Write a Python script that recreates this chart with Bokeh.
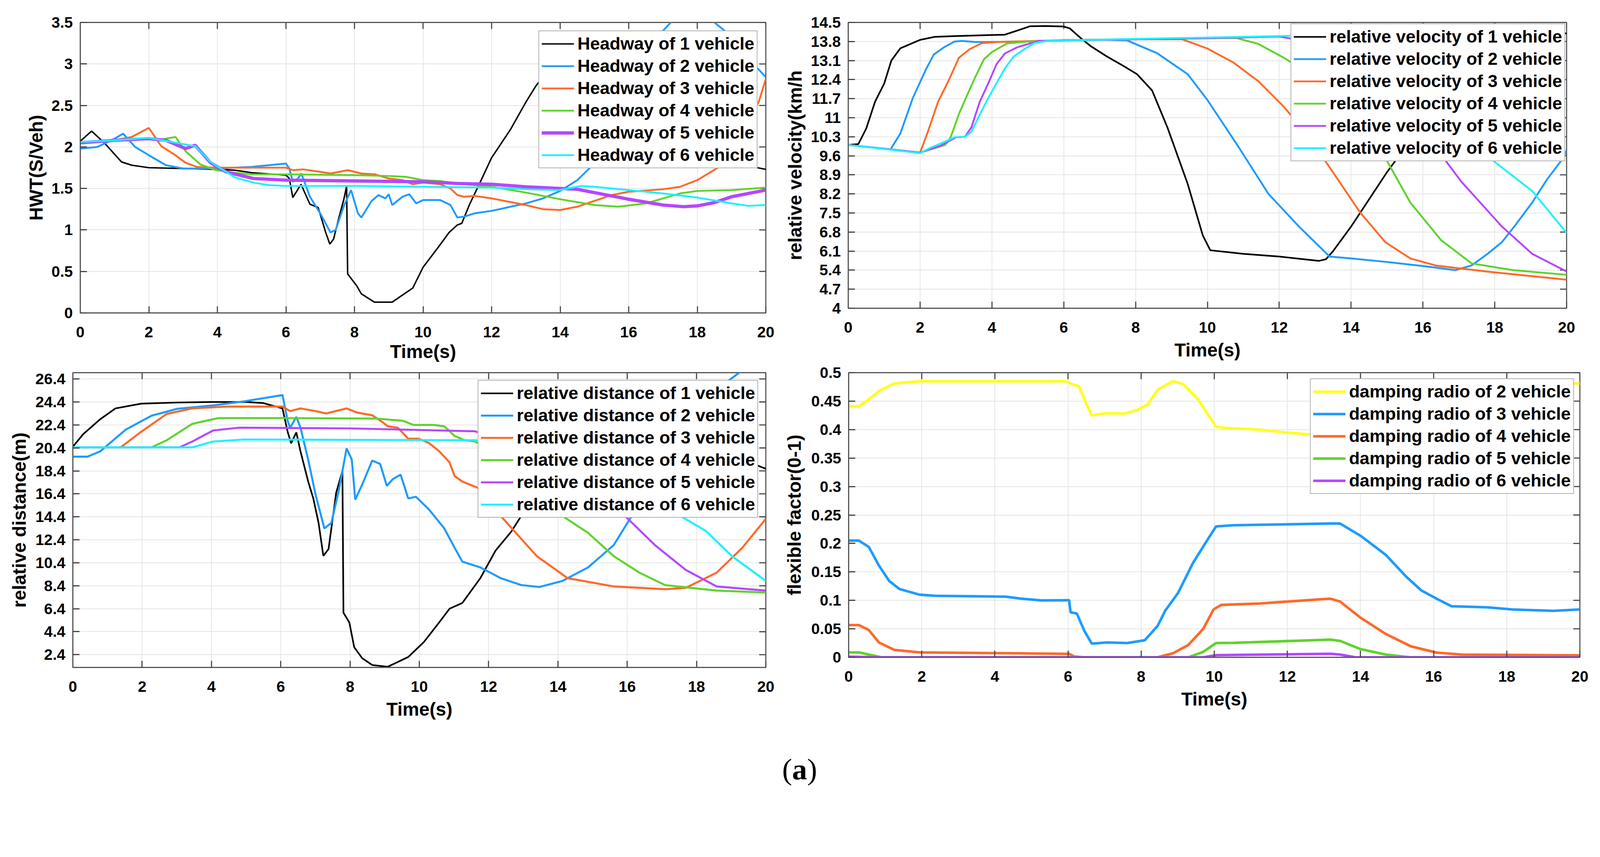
import math
from bokeh.plotting import figure
from bokeh.layouts import column, row
from bokeh.models import FixedTicker, CustomJSTickFormatter, Div, Range1d
from bokeh.embed import file_html
from bokeh.resources import INLINE

# ---------------- data ----------------
time_ticks = [0, 2, 4, 6, 8, 10, 12, 14, 16, 18, 20]

hwt_ticks = [0, 0.5, 1, 1.5, 2, 2.5, 3, 3.5]
vel_ticks = [4, 4.7, 5.4, 6.1, 6.8, 7.5, 8.2, 8.9, 9.6, 10.3, 11, 11.7, 12.4, 13.1, 13.8, 14.5]
dist_ticks = [2.4, 4.4, 6.4, 8.4, 10.4, 12.4, 14.4, 16.4, 18.4, 20.4, 22.4, 24.4, 26.4]
damp_ticks = [0, 0.05, 0.1, 0.15, 0.2, 0.25, 0.3, 0.35, 0.4, 0.45, 0.5]

colors = ["#000000", "#1e9bff", "#ff6929", "#5fd32b", "#b547ff", "#1af2ff", "#ffff1a"]

# headway (HWT)
hwt_t1 = [0, 0.33, 0.7, 1.2, 1.5, 2, 3, 4, 4.5, 5, 6, 6.1, 6.2, 6.44, 6.7, 6.94, 7.16, 7.28, 7.39, 7.54, 7.69, 7.77, 7.8,
          8.06, 8.2, 8.58, 9.1, 9.7, 10.0, 10.46, 10.76, 11.0, 11.13, 11.36, 11.65, 12.0, 12.55, 13.0, 13.3, 14.0, 15.0,
          16.0, 17.0, 18.0, 19.0, 19.5, 20]
hwt_y1 = [2.07, 2.19, 2.05, 1.82, 1.78, 1.75, 1.74, 1.73, 1.72, 1.69, 1.66, 1.62, 1.39, 1.55, 1.31, 1.27, 0.97, 0.83, 0.89,
          1.14, 1.37, 1.53, 0.47, 0.33, 0.23, 0.13, 0.13, 0.3, 0.55, 0.8, 0.97, 1.06, 1.08, 1.31, 1.56, 1.87, 2.21, 2.54,
          2.74, 3.1, 3.3, 3.2, 2.8, 2.2, 1.85, 1.77, 1.73]
hwt_t2 = [0, 0.5, 1.0, 1.25, 1.6, 2.0, 2.5, 3.0, 4.0, 5.0, 6.0, 6.1, 6.2, 6.35, 6.45, 6.7, 7.0, 7.3, 7.45, 7.7, 7.9, 8.1,
          8.2, 8.5, 8.7, 8.9, 9.0, 9.1, 9.4, 9.6, 9.8, 10.0, 10.5, 10.8, 11.0, 11.2, 11.5, 12.0, 13.0, 13.5, 14.0, 14.5,
          15.0, 15.5, 16.0, 16.5, 17.0, 17.8, 18.5, 18.8, 19.3, 19.8, 20]
hwt_y2 = [1.98, 2.0, 2.1, 2.16, 2.0, 1.9, 1.78, 1.74, 1.74, 1.76, 1.8, 1.74, 1.58, 1.62, 1.68, 1.4, 1.2, 0.97, 1.0, 1.3,
          1.48, 1.2, 1.15, 1.35, 1.42, 1.38, 1.43, 1.3, 1.4, 1.43, 1.32, 1.36, 1.36, 1.3, 1.15, 1.16, 1.2, 1.23, 1.32,
          1.38, 1.47, 1.6, 1.8, 2.1, 2.5, 2.95, 3.4, 3.75, 3.5, 3.4, 3.1, 2.93, 2.84]
hwt_t3 = [0, 1.0, 1.5, 2.0, 2.36, 2.74, 3.07, 3.4, 4.0, 5.0, 6.0, 6.2, 6.5, 7.0, 7.3, 7.8, 8.2, 8.6, 9.0, 9.4, 9.7, 10.0,
          10.5, 10.8, 11.0, 11.2, 11.5, 12.0, 13.0, 13.5, 14.0, 14.5, 15.0, 15.5, 16.0, 17.0, 17.5, 18.0, 18.6, 19.2,
          19.8, 20]
hwt_y3 = [2.05, 2.08, 2.12, 2.23, 2.01, 1.91, 1.81, 1.76, 1.75, 1.75, 1.75, 1.72, 1.73, 1.7, 1.68, 1.72, 1.68, 1.67, 1.62,
          1.6, 1.55, 1.57, 1.55, 1.5, 1.42, 1.4, 1.41, 1.38, 1.3, 1.25, 1.24, 1.28, 1.35, 1.42, 1.46, 1.49, 1.52, 1.6,
          1.75, 2.1, 2.55, 2.82]
hwt_t4 = [0, 1.0, 2.0, 2.34, 2.78, 3.07, 3.5, 3.96, 4.5, 5.0, 6.0, 8.0, 9.0, 9.5, 10.0, 10.5, 11.0, 11.5, 12.0, 13.0,
          14.0, 15.0, 15.7, 16.5, 17.0, 17.5, 18.0, 19.0, 20]
hwt_y4 = [2.05, 2.08, 2.1, 2.09, 2.12, 1.95, 1.79, 1.72, 1.69, 1.67, 1.67, 1.66, 1.65, 1.64, 1.6, 1.59, 1.56, 1.54, 1.52,
          1.45, 1.37, 1.30, 1.28, 1.32, 1.38, 1.44, 1.47, 1.48, 1.51]
hwt_t5 = [0, 1.0, 2.0, 2.5, 3.07, 3.35, 3.8, 4.25, 5.05, 6.0, 8.0, 10.0, 11.0, 12.0, 13.0, 14.0, 14.5, 15.0, 16.0, 17.0,
          17.6, 18.0, 18.5, 19.0, 20]
hwt_y5 = [2.05, 2.08, 2.1, 2.08, 1.98, 2.02, 1.81, 1.7, 1.62, 1.6, 1.59, 1.58, 1.56, 1.55, 1.52, 1.5, 1.49, 1.45, 1.37,
          1.3, 1.28, 1.29, 1.33, 1.4, 1.48]
hwt_t6 = [0, 1.0, 2.0, 2.8, 3.35, 3.8, 4.25, 4.53, 5.05, 5.5, 6.0, 8.0, 10.0, 12.0, 13.0, 14.0, 14.6, 15.0, 16.0, 17.0,
          18.0, 19.0, 19.5, 20]
hwt_y6 = [2.06, 2.08, 2.11, 2.05, 2.01, 1.82, 1.7, 1.63, 1.57, 1.54, 1.53, 1.53, 1.52, 1.51, 1.49, 1.48, 1.53, 1.52, 1.48,
          1.44, 1.39, 1.32, 1.29, 1.30]

# relative velocity
vel_t1 = [0, 0.28, 0.5, 0.75, 1.0, 1.2, 1.45, 2.0, 2.4, 3.0, 4.0, 4.36, 4.7, 5.06, 5.5, 6.0, 6.17, 6.46, 6.75, 7.2, 7.6,
          8.04, 8.46, 8.89, 9.45, 9.87, 10.08, 11.0, 12.0, 13.1, 13.3, 13.5, 14.0, 14.5, 15.0, 15.5, 16.5, 17.5, 18.5, 20]
vel_y1 = [10.0, 10.03, 10.6, 11.6, 12.25, 13.1, 13.55, 13.86, 13.97, 14.0, 14.04, 14.05, 14.2, 14.36, 14.37, 14.35, 14.28,
          13.94, 13.63, 13.25, 12.95, 12.6, 12.0, 10.63, 8.57, 6.68, 6.13, 6.0, 5.9, 5.74, 5.8, 6.1, 7.0, 8.0, 9.0, 9.9,
          12.0, 13.5, 14.0, 14.1]
vel_t2 = [0, 1.18, 1.45, 1.8, 2.15, 2.38, 2.67, 2.96, 3.17, 3.55, 5.0, 6.0, 7.0, 7.76, 8.6, 9.45, 10.0, 10.86, 11.7,
          12.55, 13.4, 14.0, 15.0, 16.0, 16.9, 17.35, 17.8, 18.2, 18.6, 19.04, 19.46, 19.9, 20]
vel_y2 = [10.0, 9.84, 10.42, 11.73, 12.74, 13.32, 13.59, 13.8, 13.82, 13.78, 13.8, 13.85, 13.87, 13.84, 13.37, 12.6,
          11.65, 9.94, 8.2, 7.0, 5.9, 5.83, 5.7, 5.55, 5.4, 5.57, 6.0, 6.43, 7.1, 7.88, 8.74, 9.51, 9.8]
vel_t3 = [0, 2.0, 2.2, 2.5, 2.79, 3.08, 3.37, 3.72, 4.13, 6.0, 8.0, 9.3, 10.0, 10.72, 11.42, 12.13, 12.83, 13.54, 14.24,
          14.95, 15.65, 16.36, 17.77, 20]
vel_y3 = [10.0, 9.72, 10.42, 11.58, 12.35, 13.2, 13.51, 13.74, 13.78, 13.85, 13.88, 13.88, 13.54, 13.03, 12.34, 11.4,
          10.28, 8.91, 7.54, 6.43, 5.83, 5.57, 5.35, 5.05]
vel_t4 = [0, 2.0, 2.55, 2.7, 2.85, 3.08, 3.31, 3.55, 3.78, 4.01, 4.42, 5.0, 7.0, 9.0, 10.8, 11.42, 12.13, 12.7, 13.5,
          14.2, 14.95, 15.65, 16.5, 17.35, 18.5, 20]
vel_y4 = [10.0, 9.72, 9.94, 10.0, 10.28, 11.13, 11.83, 12.53, 13.15, 13.42, 13.73, 13.8, 13.86, 13.9, 13.93, 13.71, 13.2,
          12.73, 11.7, 10.6, 9.53, 7.88, 6.51, 5.65, 5.4, 5.23]
vel_t5 = [0, 2.0, 2.55, 3.0, 3.25, 3.43, 3.66, 3.9, 4.13, 4.36, 4.71, 5.29, 7.0, 9.0, 11.0, 12.0, 12.62, 13.5, 14.5,
          15.5, 16.57, 17.07, 18.2, 19.04, 20]
vel_y5 = [10.0, 9.72, 9.96, 10.28, 10.3, 10.65, 11.58, 12.27, 12.97, 13.36, 13.59, 13.82, 13.86, 13.9, 13.95, 13.98,
          13.84, 13.2, 12.3, 11.0, 9.53, 8.65, 7.0, 6.0, 5.35]
vel_t6 = [0, 2.0, 2.26, 2.67, 2.96, 3.25, 3.43, 3.66, 3.9, 4.13, 4.36, 4.6, 4.89, 5.18, 5.53, 7.0, 9.0, 11.0, 12.7, 14.0,
          15.0, 16.0, 17.0, 17.85, 19.04, 20]
vel_y6 = [10.0, 9.70, 9.88, 10.11, 10.28, 10.3, 10.49, 11.11, 11.73, 12.27, 12.81, 13.24, 13.51, 13.74, 13.82, 13.87,
          13.92, 13.97, 14.02, 14.0, 13.9, 13.2, 11.0, 9.53, 8.31, 6.77]

# relative distance
dist_t1 = [0, 0.3, 0.79, 1.23, 1.97, 3.0, 4.0, 5.0, 5.5, 6.05, 6.2, 6.3, 6.45, 6.57, 6.79, 6.94, 7.09, 7.23, 7.38, 7.6,
           7.78, 7.81, 7.98, 8.12, 8.35, 8.64, 9.09, 9.68, 10.13, 10.57, 10.87, 11.24, 11.76, 12.2, 12.65, 12.94, 14.0,
           15.0, 16.0, 17.0, 18.0, 19.0, 19.9, 20]
dist_y1 = [20.5, 21.6, 22.9, 23.84, 24.25, 24.35, 24.4, 24.4, 24.3, 23.84, 21.8, 20.8, 21.75, 20.1, 17.5, 16.0, 13.9,
           11.0, 11.6, 16.5, 18.4, 6.05, 5.2, 3.05, 2.1, 1.5, 1.35, 2.2, 3.5, 5.2, 6.4, 6.9, 9.06, 11.46, 13.1, 14.47,
           19.0, 22.5, 24.0, 23.5, 21.8, 19.8, 18.7, 18.6]
dist_t2 = [0, 0.42, 0.79, 1.53, 2.27, 3.0, 4.05, 4.94, 6.05, 6.2, 6.27, 6.45, 6.57, 6.79, 7.01, 7.26, 7.46, 7.68, 7.9,
           8.05, 8.15, 8.35, 8.64, 8.87, 9.06, 9.24, 9.46, 9.68, 9.9, 10.27, 10.72, 11.02, 11.24, 11.76, 12.35, 12.94,
           13.46, 14.13, 14.87, 15.61, 16.13, 17.0, 18.0, 18.87, 19.24, 20]
dist_y2 = [19.64, 19.64, 20.1, 22.0, 23.2, 23.8, 24.1, 24.45, 25.0, 22.76, 22.16, 23.1, 22.16, 19.4, 16.27, 13.39, 13.87,
           16.75, 20.36, 19.4, 15.9, 17.2, 19.3, 19.0, 17.1, 17.7, 18.07, 16.0, 16.15, 15.07, 13.39, 11.7, 10.5, 10.0,
           9.06, 8.46, 8.29, 8.82, 10.0, 11.94, 14.47, 17.5, 22.0, 26.13, 26.97, 29.0]
dist_t3 = [0, 1.38, 1.97, 2.71, 3.45, 4.49, 6.05, 6.27, 6.57, 7.01, 7.31, 7.9, 8.2, 8.64, 8.94, 9.09, 9.38, 9.68, 9.98,
           10.27, 10.57, 10.87, 11.02, 11.24, 11.68, 12.0, 12.35, 13.39, 14.28, 15.61, 17.1, 17.69, 18.58, 19.32, 20]
dist_y3 = [20.45, 20.45, 21.8, 23.36, 23.84, 24.0, 24.0, 23.6, 23.84, 23.6, 23.4, 23.84, 23.48, 23.24, 22.64, 22.28,
           22.16, 21.2, 21.2, 20.84, 20.12, 19.15, 17.95, 17.47, 16.94, 15.8, 14.47, 10.98, 9.06, 8.34, 8.1, 8.22, 9.54,
           11.7, 14.23]
dist_t4 = [0, 2.27, 2.71, 3.45, 4.2, 6.0, 8.79, 9.53, 9.83, 10.42, 10.72, 11.02, 11.31, 11.6, 12.5, 13.3, 14.13, 14.87,
           15.61, 16.35, 17.09, 18.58, 20]
dist_y4 = [20.45, 20.45, 21.07, 22.5, 23.0, 23.0, 22.95, 22.76, 22.4, 22.4, 22.28, 21.44, 21.07, 20.96, 19.5, 17.2,
           14.47, 13.0, 10.98, 9.54, 8.46, 7.98, 7.81]
dist_t5 = [0, 3.08, 3.45, 4.05, 4.79, 8.0, 11.6, 13.0, 14.5, 15.98, 16.8, 17.69, 18.58, 20]
dist_y5 = [20.45, 20.45, 20.96, 21.92, 22.16, 22.1, 21.85, 20.5, 17.8, 14.35, 11.94, 9.78, 8.34, 7.98]
dist_t6 = [0, 3.45, 4.05, 4.94, 8.0, 11.6, 13.5, 15.5, 16.8, 17.54, 18.28, 19.02, 20]
dist_y6 = [20.45, 20.45, 20.96, 21.13, 21.1, 21.07, 20.5, 19.0, 16.5, 14.47, 13.15, 10.98, 8.82]

# damping radio (flexible factor)
damp_t2 = [0, 0.28, 0.55, 0.83, 1.25, 1.94, 4.0, 5.96, 6.1, 6.3, 6.51, 6.65, 7.07, 7.55, 7.9, 8.18, 8.45, 8.87, 9.15,
           9.56, 9.84, 10.05, 10.26, 11.23, 11.92, 12.54, 13.5, 14.0, 14.5, 15.0, 15.5, 16.0, 17.0, 18.0, 19.0, 20]
damp_y2 = [0.441, 0.441, 0.453, 0.468, 0.481, 0.485, 0.485, 0.485, 0.48, 0.476, 0.444, 0.425, 0.429, 0.428, 0.435, 0.444,
           0.47, 0.485, 0.48, 0.453, 0.425, 0.405, 0.403, 0.40, 0.395, 0.392, 0.388, 0.392, 0.42, 0.46, 0.483, 0.487,
           0.485, 0.483, 0.482, 0.481]
damp_t3 = [0, 0.28, 0.55, 0.83, 1.11, 1.39, 1.94, 2.36, 4.3, 4.71, 5.27, 6.03, 6.07, 6.24, 6.45, 6.65, 7.07, 7.62, 8.1,
           8.45, 8.66, 9.01, 9.42, 9.84, 10.05, 10.53, 13.17, 13.44, 14.0, 14.69, 15.25, 15.66, 16.08, 16.49, 17.46,
           18.16, 19.27, 20]
damp_y3 = [0.205, 0.205, 0.194, 0.161, 0.134, 0.12, 0.110, 0.108, 0.1065, 0.103, 0.1, 0.1003, 0.079, 0.077, 0.046, 0.024,
           0.026, 0.025, 0.03, 0.055, 0.082, 0.113, 0.166, 0.209, 0.23, 0.232, 0.235, 0.235, 0.2135, 0.18, 0.1416,
           0.1176, 0.103, 0.0897, 0.0878, 0.084, 0.0816, 0.084]
damp_t4 = [0, 0.28, 0.55, 0.83, 1.25, 1.94, 4.3, 6.03, 6.17, 6.45, 8.45, 8.87, 9.29, 9.7, 9.98, 10.19, 11.23, 13.17,
           13.44, 14.0, 14.69, 15.38, 16.08, 16.77, 20]
damp_y4 = [0.0566, 0.0566, 0.048, 0.026, 0.013, 0.0086, 0.0072, 0.006, 0.0014, 0, 0, 0.007, 0.0216, 0.05, 0.084, 0.092,
           0.0945, 0.103, 0.098, 0.0696, 0.041, 0.0192, 0.0082, 0.0048, 0.0034]
damp_t5 = [0, 0.28, 0.55, 0.9, 9.29, 9.7, 10.05, 10.53, 13.17, 13.44, 14.0, 14.69, 15.38, 20]
damp_y5 = [0.0086, 0.0086, 0.0048, 0, 0, 0.0096, 0.025, 0.0254, 0.031, 0.0288, 0.0144, 0.0048, 0, 0]
damp_t6 = [0, 0.8, 9.7, 10.05, 13.17, 13.44, 13.86, 20]
damp_y6 = [0.001, 0, 0, 0.0038, 0.0062, 0.0048, 0, 0]

FONT = "Liberation Sans"
AXIS_GREY = "#555555"
TICK_GREY = "#444444"
# the page comes out about 7% larger in the photograph, so every size below is given in
# picture pixels and shrunk by S
S = 4096 / 4371


def px(v):
    return int(round(v * S))


def fs(v):
    return "%.1fpx" % (v * S)


def make_fig(fw, fh, left, right, top, bottom, yrange, yticks, ylabel, ylab_standoff, xlab_standoff=16):
    p = figure(frame_width=px(fw), frame_height=px(fh), min_border_left=px(left), min_border_right=px(right),
               min_border_top=px(top), min_border_bottom=px(bottom),
               x_range=Range1d(0, 20), y_range=Range1d(*yrange),
               output_backend="svg", toolbar_location=None, tools="")
    p.outline_line_color = AXIS_GREY
    p.outline_line_width = 3 * S
    fmt = CustomJSTickFormatter(code="return tick.toString();")
    for ax, ticks, lab in ((p.xaxis[0], time_ticks, "Time(s)"), (p.yaxis[0], yticks, ylabel)):
        ax.ticker = FixedTicker(ticks=ticks)
        ax.formatter = fmt
        ax.axis_label = lab
        ax.axis_label_text_font = FONT
        ax.axis_label_text_font_style = "bold"
        ax.axis_label_text_font_size = fs(51)
        ax.major_label_text_font = FONT
        ax.major_label_text_font_style = "bold"
        ax.major_label_text_font_size = fs(42)
        ax.major_label_text_color = "black"
        ax.axis_label_text_color = "black"
        ax.axis_line_color = AXIS_GREY
        ax.axis_line_width = 3 * S
        ax.major_tick_in = px(18)
        ax.major_tick_out = 0
        ax.major_tick_line_color = TICK_GREY
        ax.major_tick_line_width = 3 * S
        ax.minor_tick_line_color = None
    p.xaxis[0].major_label_standoff = px(37)
    p.xaxis[0].axis_label_standoff = px(xlab_standoff)
    p.yaxis[0].major_label_standoff = px(20)
    p.yaxis[0].axis_label_standoff = px(ylab_standoff)
    p.xgrid.ticker = FixedTicker(ticks=time_ticks)
    p.ygrid.ticker = FixedTicker(ticks=yticks)
    for g in (p.xgrid, p.ygrid):
        g.grid_line_color = "#e4e4e4"
        g.grid_line_width = 2 * S
    # mirrored tick marks on the top and right edges of the box (half of each dash is clipped away)
    p.scatter(time_ticks, [yrange[1]] * len(time_ticks), marker="dash", angle=math.pi / 2, size=36 * S,
              line_color=TICK_GREY, line_width=3 * S)
    p.scatter([20] * len(yticks), yticks, marker="dash", size=36 * S, line_color=TICK_GREY, line_width=3 * S)
    return p


def style_legend(p, margin):
    lg = p.legend[0]
    lg.location = "top_right"
    lg.label_text_font = FONT
    lg.label_text_font_style = "bold"
    lg.label_text_font_size = fs(48)
    lg.label_text_color = "black"
    lg.glyph_width = px(89)
    lg.glyph_height = px(56)
    lg.label_height = px(56)
    lg.label_standoff = px(10)
    lg.spacing = px(5)
    lg.padding = px(6)
    lg.margin = px(margin)
    lg.border_line_color = "#666666"
    lg.border_line_width = 3 * S
    lg.background_fill_alpha = 1.0


# ---------------- top-left: headway ----------------
p1 = make_fig(1873, 794, 219, 30, 56, 140, (0, 3.5), hwt_ticks, "HWT(S/Veh)", 11, xlab_standoff=8)
hwt = [(hwt_t1, hwt_y1), (hwt_t2, hwt_y2), (hwt_t3, hwt_y3), (hwt_t4, hwt_y4), (hwt_t5, hwt_y5), (hwt_t6, hwt_y6)]
for i, (t, y) in enumerate(hwt):
    w = 9 if i == 4 else (4 if i == 0 else 5)
    p1.line(t, y, color=colors[i], line_width=w * S, legend_label="Headway of %d vehicle" % (i + 1))
style_legend(p1, 22)

# ---------------- top-right: relative velocity ----------------
p2 = make_fig(1963, 781, 195, 60, 61, 148, (4, 14.5), vel_ticks, "relative velocity(km/h", 12)
vel = [(vel_t1, vel_y1), (vel_t2, vel_y2), (vel_t3, vel_y3), (vel_t4, vel_y4), (vel_t5, vel_y5), (vel_t6, vel_y6)]
for i, (t, y) in enumerate(vel):
    p2.line(t, y, color=colors[i], line_width=(5 if i else 4.5) * S,
            legend_label="relative velocity of %d vehicle" % (i + 1))
style_legend(p2, 3)

# ---------------- bottom-left: relative distance ----------------
p3 = make_fig(1893, 806, 198, 31, 20, 175, (1.29, 26.95), dist_ticks, "relative distance(m)", 13)
dist = [(dist_t1, dist_y1), (dist_t2, dist_y2), (dist_t3, dist_y3), (dist_t4, dist_y4), (dist_t5, dist_y5),
        (dist_t6, dist_y6)]
for i, (t, y) in enumerate(dist):
    p3.line(t, y, color=colors[i], line_width=(5.5 if i else 4.5) * S,
            legend_label="relative distance of %d vehicle" % (i + 1))
style_legend(p3, 20)

# ---------------- bottom-right: damping radio ----------------
p4 = make_fig(1998, 778, 195, 25, 28, 195, (0, 0.5), damp_ticks, "flexible factor(0-1)", 15)
damp = [(damp_t2, damp_y2), (damp_t3, damp_y3), (damp_t4, damp_y4), (damp_t5, damp_y5), (damp_t6, damp_y6)]
damp_colors = [colors[6], colors[1], colors[2], colors[3], colors[4]]
for i, (t, y) in enumerate(damp):
    p4.line(t, y, color=damp_colors[i], line_width=7 * S,
            legend_label="damping radio of %d vehicle" % (i + 2))
style_legend(p4, 16)

caption = Div(text="(<b>a</b>)", width=px(4290), height=px(100), margin=(px(72), 0, 0, px(40)),
              styles={"text-align": "center", "font-family": "Liberation Serif", "font-size": fs(82),
                      "line-height": "1", "color": "black"})

layout = column(row(p1, p2), row(p3, p4), caption)
open("out.html", "w").write(file_html(layout, INLINE))
